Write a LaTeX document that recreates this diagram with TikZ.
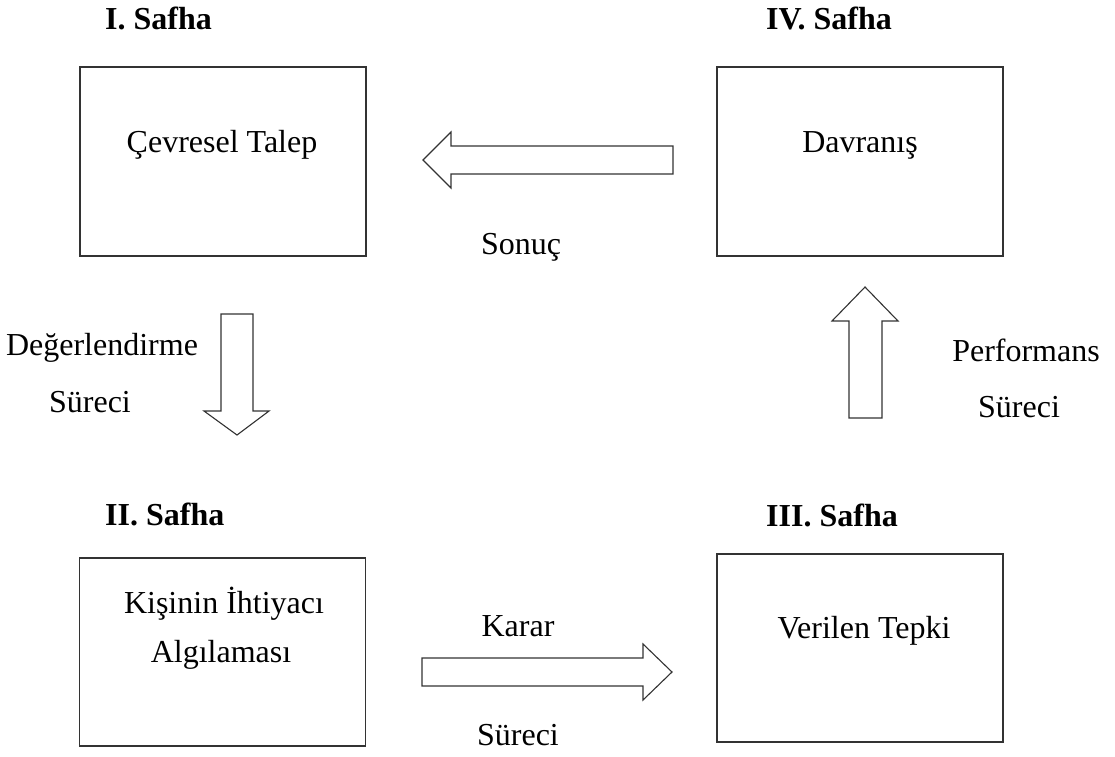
\documentclass[tikz,border=0pt]{standalone}
\usepackage{fontspec}
\setmainfont{Liberation Serif}
\begin{document}
\begin{tikzpicture}[x=1pt,y=-1pt,
  stagebox/.style={draw=black!80,line width=1.2pt,minimum width=286pt,inner sep=0pt},
  blockarrow/.style={draw=black!80,line width=1.1pt,fill=white,line join=miter},
  txt/.style={font=\fontsize{32}{38}\selectfont,anchor=base,inner sep=0pt},
  phase/.style={font=\fontsize{32}{38}\selectfont\bfseries,anchor=base west,inner sep=0pt}]
\useasboundingbox (0,0) rectangle (1115,756);

% stage boxes
\node[stagebox,minimum height=189pt] (env)  at (223,161.5) {};
\node[stagebox,minimum height=189pt] (beh)  at (860,161.5) {};
\node[stagebox,minimum height=188pt] (need) at (222.5,652) {};
\node[stagebox,minimum height=188pt] (resp) at (860,648) {};

% phase titles
\node[phase] (p1) at (105,29)  {I. Safha};
\node[phase] (p4) at (766,29)  {IV. Safha};
\node[phase] (p2) at (105,525) {II. Safha};
\node[phase] (p3) at (766,526) {III. Safha};

% box contents
\node[txt] (envt)  at (222,152) {Çevresel Talep};
\node[txt] (beht)  at (860,152) {Davranış};
\node[txt] (needa) at (224,613) {Kişinin İhtiyacı};
\node[txt] (needb) at (221,662) {Algılaması};
\node[txt] (respt) at (864,638) {Verilen Tepki};

% block arrows
% Sonuç: behaviour back to environment
\draw[blockarrow] (673,146) -- (451,146) -- (451,132) -- (423,160) -- (451,188)
  -- (451,174) -- (673,174) -- cycle;
% Değerlendirme: environment down to perception
\draw[blockarrow] (221,314) -- (253,314) -- (253,411) -- (269,411) -- (237,435)
  -- (204,411) -- (221,411) -- cycle;
% Karar: perception to response
\draw[blockarrow] (422,658) -- (643,658) -- (643,644) -- (672,672) -- (643,700)
  -- (643,686) -- (422,686) -- cycle;
% Performans: response up to behaviour
\draw[blockarrow] (849,418) -- (849,321) -- (832,321) -- (865,287) -- (898,321)
  -- (882,321) -- (882,418) -- cycle;

% process labels
\node[txt] (l1)  at (521,254) {Sonuç};
\node[txt] (l2a) at (102,355) {Değerlendirme};
\node[txt] (l2b) at (90,412)  {Süreci};
\node[txt] (l3a) at (518,636) {Karar};
\node[txt] (l3b) at (518,745) {Süreci};
\node[txt] (l4a) at (1026,361) {Performans};
\node[txt] (l4b) at (1019,417) {Süreci};
\end{tikzpicture}
\end{document}
